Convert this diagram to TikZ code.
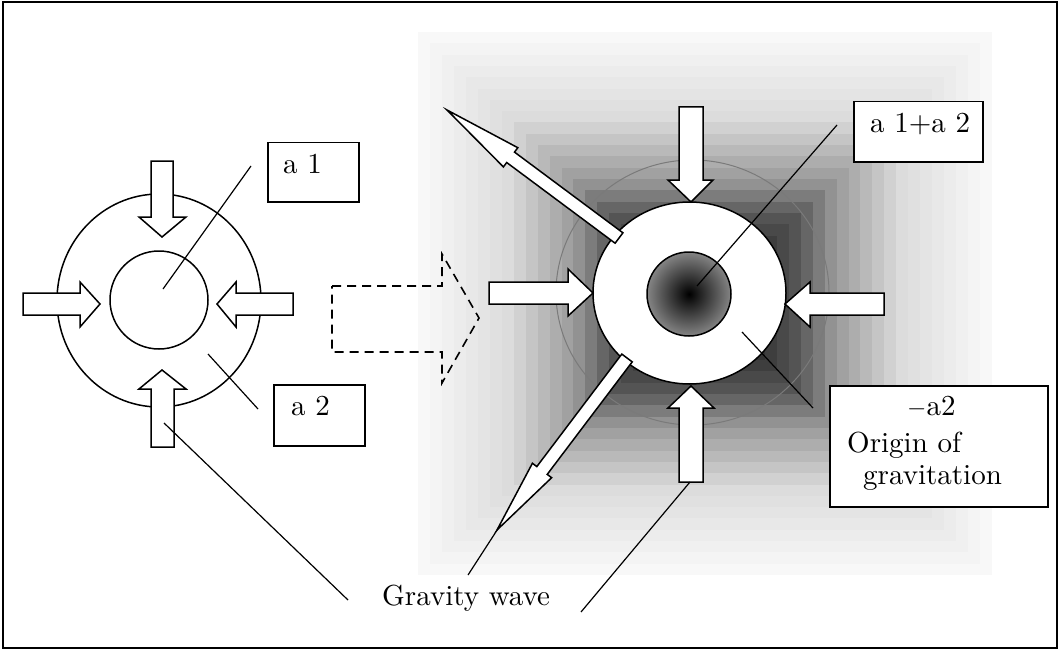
\documentclass[tikz,border=0pt]{standalone}
\usepackage{fontspec}
\setmainfont{lmroman10-regular.otf}
\usetikzlibrary{shapes.geometric}
\tikzset{
  blockarr/.style={draw=black, fill=white, line width=1.5pt, line join=miter},
  lbox/.style={draw=black, fill=white, line width=1.5pt, rectangle, inner sep=0pt, anchor=north west},
  lbl/.style={anchor=base west, inner sep=0pt, font=\fontsize{29}{34}\selectfont},
  leader/.style={draw=black, line width=1.2pt},
  ring/.style={ellipse, draw=black, line width=1.5pt, inner sep=0pt}
}
\begin{document}
\begin{tikzpicture}[x=1pt,y=-1pt]
\useasboundingbox (0,0) rectangle (1060,650);
\fill[white] (0,0) rectangle (1060,650);
% rectangular gradient background (stepped)
\foreach \i in {0,...,23}{
  \pgfmathsetmacro\tt{1-\i/24}
  \pgfmathsetmacro\tm{1-(\i+0.5)/24}
  \pgfmathsetmacro\ff{\tm<0.33 ? \tm*0.35/0.33 : (\tm<0.45 ? 0.35+(\tm-0.33)*0.25/0.12 : (\tm<0.68 ? 0.6+(\tm-0.45)*0.26/0.23 : 0.86+(\tm-0.68)*0.12/0.32))}
  \pgfmathsetmacro\pp{100*(1-\ff)}
  \fill[black!\pp] ({705-287*\tt},{303.5-271.5*\tt}) rectangle ({705+287*\tt},{303.5+271.5*\tt});
}
% frame
\draw[line width=1.5pt] (3,2) rectangle (1057,648);

% ---------- left diagram ----------
\node[ring, fill=white, minimum width=204pt, minimum height=213pt] (outerL) at (159,300.5) {};
\node[ring, fill=white, minimum width=98pt, minimum height=98pt] (innerL) at (159,300) {};
\draw[blockarr] (151,161)--(173,161)--(173,217)--(186,217)--(162,237)--(139,217)--(151,217)--cycle;
\draw[blockarr] (23,293)--(80,293)--(80,282)--(100,304)--(80,327)--(80,315)--(23,315)--cycle;
\draw[blockarr] (293,293)--(236,293)--(236,282)--(217,304)--(236,327)--(236,315)--(293,315)--cycle;
\draw[blockarr] (151,447)--(151,389)--(139,389)--(162,370)--(186,389)--(174,389)--(174,447)--cycle;

\node[lbox, minimum width=91pt, minimum height=59pt] (boxA1) at (267,142) {};
\node[lbl] (txtA1) at (283,173) {a 1};
\node[lbox, minimum width=91pt, minimum height=61pt] (boxA2) at (273,384) {};
\node[lbl] (txtA2) at (291,415) {a 2};

\coordinate (a1p) at (163,289);
\coordinate (a1q) at (251,166);
\coordinate (a2p) at (208,354);
\coordinate (a2q) at (258,409);
\draw[leader] (a1p) -- (a1q);
\draw[leader] (a2p) -- (a2q);

% dashed transition arrow
\draw[line width=1.6pt, dash pattern=on 9pt off 6pt] (332,286)--(442,286)--(442,254)--(479,318)--(442,383)--(442,352)--(332,352)--cycle;

% ---------- right diagram ----------
\node[ellipse, draw=black!52, line width=1pt, inner sep=0pt, minimum width=273pt, minimum height=265pt] (greyR) at (692.5,292.5) {};
\node[ring, fill=white, minimum width=193pt, minimum height=182pt] (outerR) at (689.5,293) {};
\node[ring, shading=radial, inner color=black, outer color=black!48, minimum width=84pt, minimum height=84pt] (innerR) at (689,294) {};

\draw[blockarr] (679,107)--(703,107)--(703,180)--(713,180)--(691,202)--(668,180)--(679,180)--cycle;
\draw[blockarr] (679,482)--(679,408)--(668,408)--(691,386)--(714,408)--(703,408)--(703,482)--cycle;
\draw[blockarr] (489,282)--(568,282)--(568,269)--(593,293)--(568,316)--(568,304)--(489,304)--cycle;
\draw[blockarr] (884,293)--(810,293)--(810,282)--(785,304)--(810,327)--(810,315)--(884,315)--cycle;

% gravity wave leader (lower) drawn before outgoing arrow
\coordinate (gwL1) at (468,575);
\coordinate (gwL2) at (512,507);
\draw[leader] (gwL1) -- (gwL2);

% outgoing diagonal arrows
\draw[blockarr] (622.9,232.8)--(514.5,152.1)--(517.8,147.7)--(447,110)--(503.4,166.9)--(506.7,162.5)--(615.1,243.2)--cycle;
\draw[blockarr] (632.2,361.9)--(547.2,474.4)--(551.6,477.7)--(497,530)--(532.4,463.3)--(536.8,466.6)--(621.8,354.1)--cycle;

\node[lbox, minimum width=129pt, minimum height=60pt] (boxSum) at (853,101) {};
\node[lbl] (txtSum) at (870,132) {a 1+a 2};
\node[lbox, minimum width=218pt, minimum height=121pt] (boxOrig) at (829,385) {};
\node[lbl] (txtNeg) at (907,415) {$-$a2};
\node[lbl] (txtOrig1) at (847,452) {Origin of};
\node[lbl] (txtOrig2) at (863,484) {gravitation};

\coordinate (sp) at (697,286);
\coordinate (sq) at (837,125);
\coordinate (np) at (742,332);
\coordinate (nq) at (813,408);
\draw[leader] (sp) -- (sq);
\draw[leader] (np) -- (nq);

% gravity wave label and leaders
\node[lbl] (gw) at (382,605) {Gravity wave};
\coordinate (gwA1) at (164,423);
\coordinate (gwA2) at (348,600);
\draw[leader] (gwA1) -- (gwA2);
\coordinate (gwR1) at (581,612);
\coordinate (gwR2) at (690,482);
\draw[leader] (gwR1) -- (gwR2);
\end{tikzpicture}
\end{document}
